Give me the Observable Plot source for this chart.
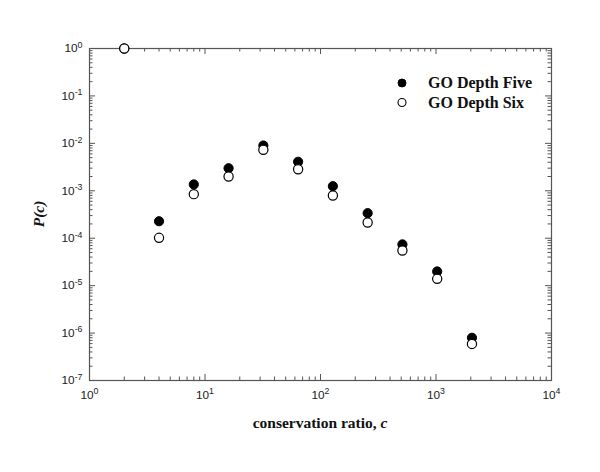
<!DOCTYPE html>
<html>
<head>
<meta charset="utf-8">
<script src="https://cdn.jsdelivr.net/npm/d3@7"></script>
<script src="https://cdn.jsdelivr.net/npm/@observablehq/plot@0.6"></script>
<style>
  html, body { margin: 0; padding: 0; background: #fff; }
  #chart { position: relative; width: 600px; height: 472px; }
</style>
</head>
<body>
<div id="chart"></div>
<script>
// ---- data ----
const conservationRatio = [2, 4, 8, 16, 32, 64, 128, 256, 512, 1024, 2048];
const depthFive = [1, 2.28e-4, 1.36e-3, 2.99e-3, 9.0e-3, 4.09e-3, 1.25e-3, 3.37e-4, 7.4e-5, 1.99e-5, 7.96e-7];
const depthSix  = [1, 1.02e-4, 8.5e-4, 2.0e-3, 7.3e-3, 2.85e-3, 7.96e-4, 2.14e-4, 5.5e-5, 1.39e-5, 5.9e-7];
const seriesNames = ["GO Depth Five", "GO Depth Six"];
const xMajorTicks = [1, 10, 100, 1000, 10000];
const yMajorTicks = [1e-7, 1e-6, 1e-5, 1e-4, 1e-3, 1e-2, 1e-1, 1];
const xLabel = "conservation ratio, ";
const xLabelVar = "c";
const yLabel = "P(c)";

// ---- derived ----
const five = conservationRatio.map((c, i) => ({c, p: depthFive[i]}));
const six = conservationRatio.map((c, i) => ({c, p: depthSix[i]}));
const minorOf = majors => majors.slice(0, -1).flatMap(m => d3.range(2, 10).map(k => k * m));
const xMinor = minorOf(xMajorTicks);
const yMinor = minorOf(yMajorTicks);

const W = 600, H = 472;
const mL = 89, mR = 49, mT = 48, mB = 92;
const fw = W - mL - mR, fh = H - mT - mB;
const majLen = 6, minLen = 3.5;
const axisColor = "#555";

const expFmt = d => "10^" + Math.round(Math.log10(d));

const chart = Plot.plot({
  width: W, height: H,
  marginLeft: mL, marginRight: mR, marginTop: mT, marginBottom: mB,
  x: {type: "log", domain: [1, 1e4]},
  y: {type: "log", domain: [1e-7, 1]},
  style: {fontFamily: "'Liberation Sans', Arial, sans-serif", fontSize: "12px", color: "#222", background: "#fff"},
  marks: [
    // tick marks pointing inward on all four sides
    Plot.tickX(xMajorTicks, {x: d => d, insetTop: fh - majLen, stroke: axisColor}),
    Plot.tickX(xMinor, {x: d => d, insetTop: fh - minLen, stroke: axisColor}),
    Plot.tickX(xMajorTicks, {x: d => d, insetBottom: fh - majLen, stroke: axisColor}),
    Plot.tickX(xMinor, {x: d => d, insetBottom: fh - minLen, stroke: axisColor}),
    Plot.tickY(yMajorTicks, {y: d => d, insetRight: fw - majLen, stroke: axisColor}),
    Plot.tickY(yMinor, {y: d => d, insetRight: fw - minLen, stroke: axisColor}),
    Plot.tickY(yMajorTicks, {y: d => d, insetLeft: fw - majLen, stroke: axisColor}),
    Plot.tickY(yMinor, {y: d => d, insetLeft: fw - minLen, stroke: axisColor}),
    Plot.frame({stroke: axisColor, strokeWidth: 1.2}),
    Plot.axisX({ticks: xMajorTicks, tickSize: 0, tickPadding: 10, tickFormat: expFmt, label: null}),
    Plot.axisY({ticks: yMajorTicks, tickSize: 0, tickPadding: 7, tickFormat: expFmt, label: null}),
    Plot.dot(five, {x: "c", y: "p", r: 4.6, fill: "black", stroke: "black", strokeWidth: 1}),
    Plot.dot(six, {x: "c", y: "p", r: 4.6, fill: "white", stroke: "black", strokeWidth: 1.2})
  ]
});

const svg = d3.select(chart);

// superscript exponents on tick labels
svg.selectAll('g[aria-label="x-axis tick label"] text, g[aria-label="y-axis tick label"] text').each(function() {
  const t = d3.select(this);
  const s = t.text();
  const m = s.match(/^10\^(-?\d+)$/);
  if (!m) return;
  t.text(null)
    .style("font-size", "11.8px")
    .style("font-family", "'Liberation Sans', Arial, sans-serif")
    .style("fill", "#222");
  t.append("tspan").text("10");
  t.append("tspan").attr("dy", "-0.5em").style("font-size", "8.8px").text(m[1]);
});

// axis titles
const serif = "'Liberation Serif', 'Times New Roman', serif";
const xt = svg.append("text")
  .attr("x", mL + fw / 2).attr("y", 428)
  .style("text-anchor", "middle")
  .style("font-family", serif).style("font-weight", "bold").style("font-size", "15.5px").style("fill", "#111");
xt.append("tspan").text(xLabel);
xt.append("tspan").style("font-style", "italic").text(xLabelVar);

svg.append("text")
  .attr("transform", `translate(44, ${mT + fh / 2}) rotate(-90)`)
  .style("text-anchor", "middle")
  .style("font-family", serif).style("font-weight", "bold").style("font-style", "italic")
  .style("font-size", "15.5px").style("fill", "#111")
  .text(yLabel);

// legend
const lg = svg.append("g");
seriesNames.forEach((name, i) => {
  const y = 83 + i * 19.5;
  lg.append("circle").attr("cx", 402).attr("cy", y).attr("r", 4)
    .attr("fill", i === 0 ? "black" : "white").attr("stroke", "black").attr("stroke-width", i === 0 ? 1 : 1.1);
  lg.append("text").attr("x", 428).attr("y", y + 5)
    .style("text-anchor", "start")
    .style("font-family", serif).style("font-weight", "bold").style("font-size", "16px").style("fill", "#111")
    .text(name);
});

document.getElementById("chart").appendChild(chart);
</script>
</body>
</html>
